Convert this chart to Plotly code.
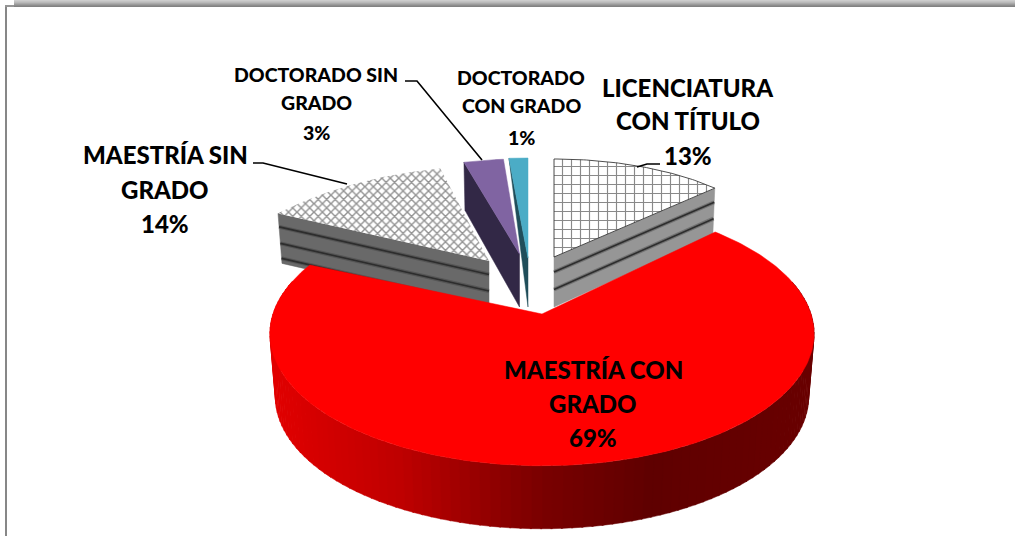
import math

import plotly.graph_objects as go

# Data
categories = [
    "LICENCIATURA CON TÍTULO",
    "MAESTRÍA CON GRADO",
    "MAESTRÍA SIN GRADO",
    "DOCTORADO SIN GRADO",
    "DOCTORADO CON GRADO",
]
values = [12.6, 69.0, 14.2, 3.0, 1.2]
label_lines = [
    ["LICENCIATURA", "CON TÍTULO"],
    ["MAESTRÍA CON", "GRADO"],
    ["MAESTRÍA SIN", "GRADO"],
    ["DOCTORADO SIN", "GRADO"],
    ["DOCTORADO", "CON GRADO"],
]

WIDTH = 1015
HEIGHT = 536
FONT = "Lato"

# Projection of every exploded slice: apex pixel, radii and perspective
GEOM = [
    dict(ax=554, ay=257, rx=226, ry=98, k=0.0),
    dict(ax=542, ay=314, rx=269, ry=129, k=0.15),
    dict(ax=489, ay=261, rx=277, ry=142, k=0.5),
    dict(ax=519.5, ay=254, rx=213, ry=95, k=0.0),
    dict(ax=528, ay=258, rx=253, ry=100, k=0.0),
]
# Label positions: one (x, y, size) per text row
LABEL_POS = [
    (688, [87, 120, 155], 24),
    (593, [369, 403, 437], 24),
    (165, [154, 189, 223], 24),
    (316, [74, 102, 132], 19.5),
    (521, [77, 105, 137], 19.5),
]
LEADERS = [
    ([660, 647, 637], [164, 164, 167]),
    ([253, 263, 347], [163, 163, 184]),
    ([405, 417, 482], [81, 81, 160]),
]


def project(g, theta):
    u, v = math.sin(theta), math.cos(theta)
    s = 1 / (1 + g["k"] * v)
    return g["ax"] + g["rx"] * u * s, g["ay"] - g["ry"] * v * s


def arc(g, a, b, n=60):
    pts = [project(g, a + (b - a) * i / n) for i in range(n + 1)]
    return [p[0] for p in pts], [p[1] for p in pts]


def poly(xs, ys, color, line=None, pattern=None):
    return go.Scatter(
        x=xs,
        y=ys,
        mode="lines",
        fill="toself",
        fillcolor=color,
        fillpattern=pattern,
        line=dict(color=line or color, width=0.5 if line is None else 1),
        hoverinfo="skip",
        showlegend=False,
    )


def wall_color(x):
    stops = [(270, 225), (400, 190), (500, 140), (540, 122), (650, 95), (815, 105)]
    for (x0, c0), (x1, c1) in zip(stops, stops[1:]):
        if x <= x1:
            t = max(0, (x - x0) / (x1 - x0))
            return f"rgb({round(c0 + (c1 - c0) * t)},0,0)"
    return "rgb(105,0,0)"


# Slice angles from the values
angles = []
total = sum(values)
acc = 0.0
for v in values:
    a = acc / total * 2 * math.pi
    acc += v
    angles.append((a, acc / total * 2 * math.pi))

fig = go.Figure()

# Red slice: curved side drawn as narrow strips for the gradient
g = GEOM[1]
depth = 63
n_strips = 110
for i in range(n_strips):
    t0 = math.radians(75 + 210 * i / n_strips)
    t1 = math.radians(75 + 210 * (i + 1) / n_strips + 0.3)
    p0, p1 = project(g, t0), project(g, t1)
    b0 = (g["ax"] + (p0[0] - g["ax"]) * 0.98, p0[1] + depth)
    b1 = (g["ax"] + (p1[0] - g["ax"]) * 0.98, p1[1] + depth)
    fig.add_trace(
        poly(
            [p0[0], p1[0], b1[0], b0[0], p0[0]],
            [p0[1], p1[1], b1[1], b0[1], p0[1]],
            wall_color((p0[0] + p1[0]) / 2),
        )
    )


def radial_wall(g, theta, drop_rim, drop_apex, dx_rim, color, stripes=None):
    rx_, ry_ = project(g, theta)
    ax, ay = g["ax"], g["ay"]
    xs = [rx_, ax, ax, rx_ + dx_rim, rx_]
    ys = [ry_, ay, ay + drop_apex, ry_ + drop_rim, ry_]
    fig.add_trace(poly(xs, ys, color))
    for f in stripes or []:
        sx = [rx_ + dx_rim * f, ax]
        sy = [ry_ + drop_rim * f, ay + drop_apex * f]
        for w, c in ((4, "rgba(50,50,50,0.35)"), (1.6, "rgb(45,45,45)")):
            fig.add_trace(
                go.Scatter(
                    x=sx,
                    y=sy,
                    mode="lines",
                    line=dict(color=c, width=w),
                    hoverinfo="skip",
                    showlegend=False,
                )
            )


# Licenciatura
a, b = angles[0]
g = GEOM[0]
radial_wall(g, b, 47, 50, -2, "rgb(150,150,150)", [0.3, 0.65])
xs, ys = arc(g, a, b)
fig.add_trace(
    poly(
        [g["ax"]] + xs + [g["ax"]],
        [g["ay"]] + ys + [g["ay"]],
        "white",
        line="rgba(60,60,60,0.9)",
        pattern=dict(shape="+", size=9, solidity=0.24, fgcolor="rgb(20,20,20)", bgcolor="white"),
    )
)

# Maestria sin grado
a, b = angles[2]
g = GEOM[2]
radial_wall(g, a, 50, 50, 4, "rgb(105,105,105)", [0.27, 0.6, 0.9])
xs, ys = arc(g, a, b)
fig.add_trace(
    poly(
        [g["ax"]] + xs + [g["ax"]],
        [g["ay"]] + ys + [g["ay"]],
        "white",
        line="rgba(255,255,255,0)",
        pattern=dict(shape="x", size=6, solidity=0.42, fgcolor="rgb(40,40,40)", bgcolor="white"),
    )
)

# Doctorado sin grado
a, b = angles[3]
g = GEOM[3]
radial_wall(g, a, 48, 53, 1, "rgb(50,40,70)")
xs, ys = arc(g, a, b)
fig.add_trace(poly([g["ax"]] + xs + [g["ax"]], [g["ay"]] + ys + [g["ay"]], "rgb(128,100,162)"))

# Doctorado con grado
a, b = angles[4]
g = GEOM[4]
radial_wall(g, a, 4, 49, 0, "rgb(32,78,90)")
xs, ys = arc(g, a, b)
fig.add_trace(poly([g["ax"]] + xs + [g["ax"]], [g["ay"]] + ys + [g["ay"]], "rgb(75,172,198)"))

# Red top face goes over the neighbours' sides
a, b = angles[1]
g = GEOM[1]
xs, ys = arc(g, a, b, n=240)
fig.add_trace(poly([g["ax"]] + xs + [g["ax"]], [g["ay"]] + ys + [g["ay"]], "rgb(255,0,0)"))

# Leader lines
for lx, ly in LEADERS:
    fig.add_trace(
        go.Scatter(
            x=lx,
            y=ly,
            mode="lines",
            line=dict(color="black", width=1.6),
            hoverinfo="skip",
            showlegend=False,
        )
    )

# Labels
for lines, v, (x, rows, size) in zip(label_lines, values, LABEL_POS):
    for text, y in zip(lines + [f"{round(v)}%"], rows):
        fig.add_annotation(
            x=x,
            y=y,
            text=text,
            showarrow=False,
            xanchor="center",
            yanchor="middle",
            font=dict(family=FONT, size=size, color="black", weight=900),
        )

# Window frame: grey band along the top and a line on the left
shapes = []
for i, c in enumerate([205, 195, 185, 170, 155, 140, 130]):
    shapes.append(
        dict(
            type="rect",
            xref="x",
            yref="y",
            x0=14,
            x1=WIDTH,
            y0=i,
            y1=i + 1,
            fillcolor=f"rgb({c},{c},{c})",
            line=dict(width=0),
            layer="below",
        )
    )
shapes.append(
    dict(
        type="rect",
        xref="x",
        yref="y",
        x0=5,
        x1=7,
        y0=6,
        y1=HEIGHT,
        fillcolor="rgb(135,135,135)",
        line=dict(width=0),
        layer="below",
    )
)
shapes.append(
    dict(
        type="rect",
        xref="x",
        yref="y",
        x0=5,
        x1=14,
        y0=5,
        y1=7,
        fillcolor="rgb(150,150,150)",
        line=dict(width=0),
        layer="below",
    )
)

fig.update_layout(
    width=WIDTH,
    height=HEIGHT,
    margin=dict(l=0, r=0, t=0, b=0),
    paper_bgcolor="white",
    plot_bgcolor="white",
    showlegend=False,
    shapes=shapes,
    xaxis=dict(range=[0, WIDTH], visible=False, fixedrange=True),
    yaxis=dict(range=[HEIGHT, 0], visible=False, fixedrange=True),
)

fig.write_html("out.html", post_script="document.body.style.margin='0';", config=dict(displayModeBar=False))
